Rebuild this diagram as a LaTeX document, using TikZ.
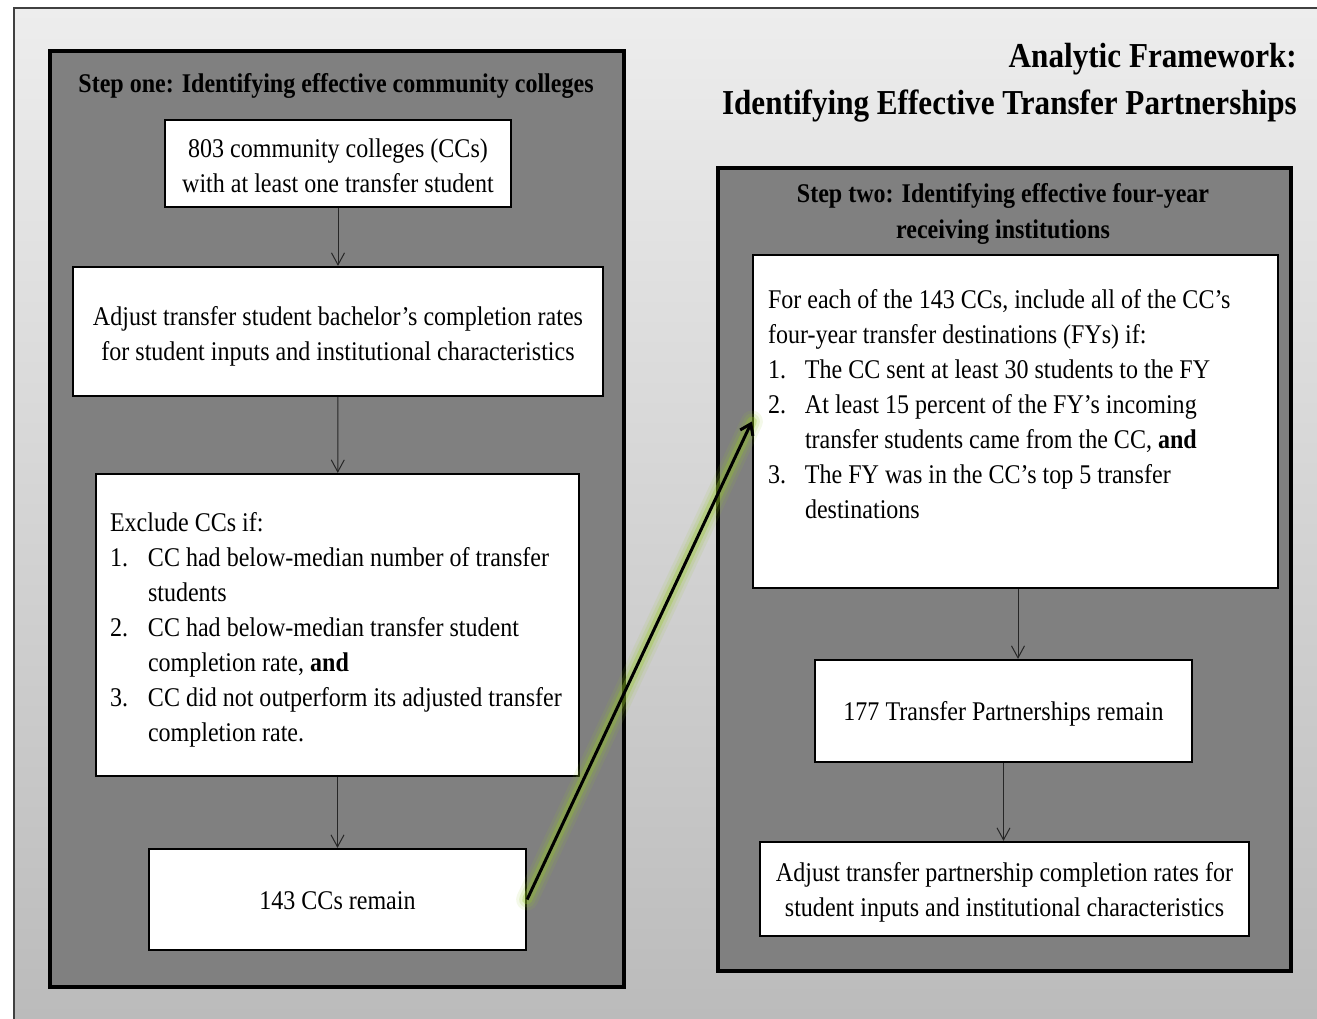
\documentclass[tikz,border=0pt]{standalone}
\usepackage{fontspec}
\setmainfont{Liberation Serif}[FakeStretch=0.89]
\usetikzlibrary{arrows.meta}
\definecolor{panelgray}{HTML}{808080}
\definecolor{glowgreen}{RGB}{150,200,40}
\definecolor{bgtop}{HTML}{EDEDED}
\definecolor{bgbot}{HTML}{BBBBBB}
\newcommand{\topstrut}[1]{\rule{0pt}{#1}}
\begin{document}
\begin{tikzpicture}[x=1pt,y=-1pt,
  panel/.style={draw=black, line width=3.5pt, fill=panelgray},
  box/.style={draw=black, line width=2.2pt, fill=white, inner sep=0pt,
    font=\fontsize{27}{35}\selectfont, align=center},
  listbox/.style={box, align=flush left, inner ysep=0pt},
  ptitle/.style={font=\fontsize{27}{36}\selectfont\bfseries, align=center, inner sep=0pt},
  mtitle/.style={font=\fontsize{35}{47}\selectfont\bfseries, align=right, inner sep=0pt},
  arr/.style={draw=black!85, line width=1pt, -{Straight Barb[length=12pt,width=13pt]}},
  glowline/.style={draw=glowgreen, line cap=round},
  bigarr/.style={draw=black, line width=3pt, -{Straight Barb[length=10pt,width=14pt]}},
]
\useasboundingbox (0,0) rectangle (1317,1019);
% background frame
\shade[top color=bgtop, bottom color=bgbot] (14,8) rectangle (1317,1019);
\draw[line width=1.5pt, draw=black!75] (14,1019) -- (14,8) -- (1317,8);

% main title
\node[mtitle, anchor=north east] (title) at (1297,43)
  {Analytic Framework:\\Identifying Effective Transfer Partnerships};

% panels
\draw[panel] (50,51) rectangle (624,987);
\draw[panel] (718,168) rectangle (1291,971);

\node[ptitle] (t1) at (336,86) {Step one: Identifying effective community colleges};
\node[ptitle] (t2) at (1003,214) {Step two: Identifying effective four-year\\receiving institutions};

% step one boxes
\node[box, minimum width=346pt, minimum height=87pt] (b1) at (338,163.5)
  {\topstrut{23pt}803 community colleges (CCs)\\with at least one transfer student};
\node[box, minimum width=530pt, minimum height=129pt] (b2) at (338,331.5)
  {\topstrut{29pt}Adjust transfer student bachelor’s completion rates\\for student inputs and institutional characteristics};
\node[listbox, text width=455pt, inner xsep=14pt, minimum height=302pt] (b3) at (337.5,625)
  {\topstrut{29pt}Exclude CCs if:\\
   \makebox[38pt][l]{1.}CC had below-median number of transfer\\
   \hspace*{38pt}students\\
   \makebox[38pt][l]{2.}CC had below-median transfer student\\
   \hspace*{38pt}completion rate, \textbf{and}\\
   \makebox[38pt][l]{3.}\mbox{CC did not outperform its adjusted transfer}\\
   \hspace*{38pt}completion rate.};
\node[box, minimum width=377pt, minimum height=101pt] (b4) at (337.5,899.5)
  {\topstrut{21pt}143 CCs remain};

% step two boxes
\node[listbox, text width=495pt, inner xsep=15pt, minimum height=333pt] (b5) at (1015.5,421.5)
  {For each of the 143 CCs, include all of the CC’s\\
   four-year transfer destinations (FYs) if:\\
   \makebox[37pt][l]{1.}The CC sent at least 30 students to the FY\\
   \makebox[37pt][l]{2.}At least 15 percent of the FY’s incoming\\
   \hspace*{37pt}transfer students came from the CC, \textbf{and}\\
   \makebox[37pt][l]{3.}The FY was in the CC’s top 5 transfer\\
   \hspace*{37pt}destinations\\
   \mbox{}};
\node[box, minimum width=377pt, minimum height=102pt] (b6) at (1003.5,711)
  {\topstrut{25pt}177 Transfer Partnerships remain};
\node[box, minimum width=489pt, minimum height=94pt] (b7) at (1004.5,889)
  {\topstrut{25pt}Adjust transfer partnership completion rates for\\student inputs and institutional characteristics};

% connectors
\draw[arr] (b1) -- (b2);
\draw[arr] (b2) -- (b3);
\draw[arr] (b3) -- (b4);
\draw[arr] ([xshift=2.5pt]b5.south) -- ([xshift=14.5pt]b6.north);
\draw[arr] (b6) -- (b6 |- b7.north);

% glowing arrow between steps
\draw[glowline, line width=22pt, opacity=0.1] (b4.east) -- (b5.west);
\draw[glowline, line width=16pt, opacity=0.15] (b4.east) -- (b5.west);
\draw[glowline, line width=10pt, opacity=0.3] (b4.east) -- (b5.west);
\draw[bigarr] (b4.east) -- (b5.west);
\end{tikzpicture}
\end{document}
